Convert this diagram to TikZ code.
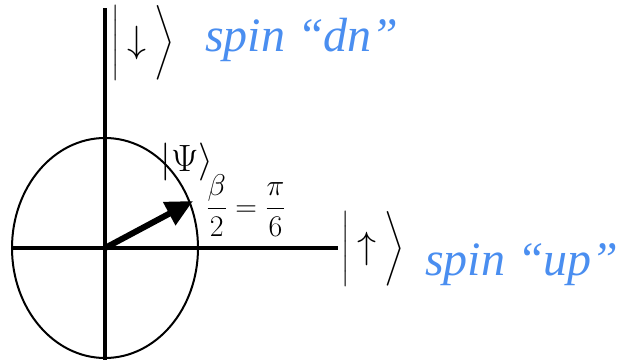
\RequirePackage{fix-cm}
\documentclass[tikz,border=0pt]{standalone}
\usepackage{amsmath}
\usepackage{fontspec}
\setmainfont{Liberation Serif}
\usetikzlibrary{arrows.meta, positioning}
\definecolor{spinblue}{RGB}{74,142,240}
\newcommand{\bigarr}[1]{\;\raisebox{-2pt}{\fontsize{38}{40}\selectfont$#1$}\;}

\begin{document}
\begin{tikzpicture}[
  x=1pt, y=-1pt,
  axis/.style={line width=4pt},
  state/.style={line width=6pt, -{Triangle[length=27pt, width=25pt]}},
  ket/.style={inner sep=0pt, font=\fontsize{30}{32}\selectfont},
  lbl/.style={inner sep=0pt, text=spinblue, font=\fontsize{48}{52}\selectfont\itshape}
]
  \useasboundingbox (0,0) rectangle (622,364);

  % axes and circle
  \coordinate (o)   at (105,248);
  \coordinate (top) at (105,8);
  \coordinate (bot) at (105,360);
  \coordinate (lft) at (12,248);
  \coordinate (rgt) at (338,248);
  \coordinate (tip) at (193,201);
  \draw[line width=2pt] (o) ellipse [x radius=93, y radius=110];
  \draw[axis] (top) -- (bot);
  \draw[axis] (lft) -- (rgt);

  % state vector
  \draw[state] (o) -- (tip);

  % basis labels
  \node[ket]                    (dn)    at (143,43)  {$\bigg|\bigarr{\downarrow}\bigg\rangle$};
  \node[lbl, anchor=base west]  (dnlbl) at (205,52)  {spin “dn”};
  \node[ket]                    (up)    at (373,249) {$\bigg|\bigarr{\uparrow}\bigg\rangle$};
  \node[lbl, anchor=base west]  (uplbl) at (425,275) {spin “up”};

  % state and angle
  \node[inner sep=0pt, font=\fontsize{38}{40}\selectfont] (psi) at (187,162) {$|\Psi\rangle$};
  \node[inner sep=0pt, font=\fontsize{30}{32}\selectfont] (ang) at (246,206) {$\dfrac{\beta}{2}=\dfrac{\pi}{6}$};
\end{tikzpicture}
\end{document}
